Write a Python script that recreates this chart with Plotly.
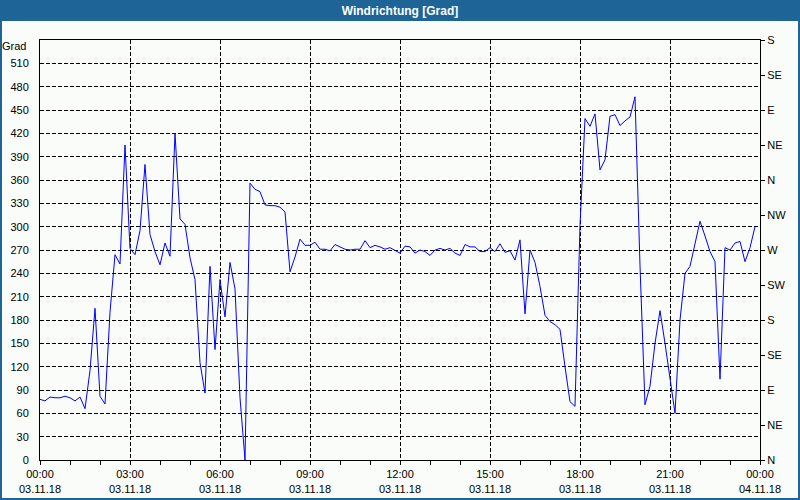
import plotly.graph_objects as go
import pandas as pd

# ---------------- data ----------------
start_time = "2018-11-03 00:00"
sample_step = "10min"

wind_dir = [
    78, 76, 81, 80, 80, 82, 80, 76, 81, 66,
    115, 195, 82, 72, 190, 264, 252, 405, 272, 264,
    295, 380, 290, 268, 251, 279, 262, 420, 310, 303,
    260, 232, 125, 86, 249, 142, 232, 184, 254, 220,
    80, 0, 356, 348, 345, 328, 327, 327, 325, 319,
    242, 261, 284, 276, 276, 280, 271, 271, 269, 277,
    274, 271, 270, 271, 271, 282, 273, 276, 274, 271,
    273, 270, 266, 275, 274, 266, 270, 268, 263, 270,
    272, 270, 272, 266, 263, 277, 274, 274, 268, 268,
    273, 268, 278, 267, 269, 257, 283, 188, 270, 254,
    223, 186, 178, 174, 168, 120, 75, 69, 301, 439,
    429, 445, 373, 386, 442, 444, 430, 436, 441, 467,
    250, 71, 95, 150, 192, 150, 103, 60, 180, 240,
    249, 279, 307, 288, 268, 255, 104, 273, 270, 279,
    281, 255, 273, 300,
]

times = pd.date_range(start_time, periods=len(wind_dir), freq=sample_step)

x_range = ["2018-11-03 00:00", "2018-11-04 00:00"]
x_tick_times = [
    "2018-11-03 00:00", "2018-11-03 03:00", "2018-11-03 06:00",
    "2018-11-03 09:00", "2018-11-03 12:00", "2018-11-03 15:00",
    "2018-11-03 18:00", "2018-11-03 21:00", "2018-11-04 00:00",
]
x_tick_labels = [
    "00:00<br>03.11.18", "03:00<br>03.11.18", "06:00<br>03.11.18",
    "09:00<br>03.11.18", "12:00<br>03.11.18", "15:00<br>03.11.18",
    "18:00<br>03.11.18", "21:00<br>03.11.18", "00:00<br>04.11.18",
]
y_ticks = [0, 30, 60, 90, 120, 150, 180, 210, 240, 270, 300, 330,
           360, 390, 420, 450, 480, 510]
compass_ticks = [0, 45, 90, 135, 180, 225, 270, 315, 360, 405, 450, 495, 540]
compass_labels = ["N", "NE", "E", "SE", "S", "SW", "W", "NW",
                  "N", "NE", "E", "SE", "S"]

# ---------------- style ----------------
FRAME = "#1e6496"
BG = "#f9fcf9"
FONT = "Liberation Sans, Arial, sans-serif"

fig = go.Figure()
fig.add_trace(go.Scatter(
    x=times, y=wind_dir, mode="lines",
    line=dict(color="#0000ff", width=1),
    hoverinfo="x+y", showlegend=False,
))
# invisible trace to anchor the compass axis
fig.add_trace(go.Scatter(
    x=[times[0]], y=[compass_ticks[0]], yaxis="y2", mode="markers",
    marker=dict(opacity=0), hoverinfo="skip", showlegend=False,
))

W, H = 800, 500
L, R, T, B = 40, 40, 40, 40
PW, PH = W - L - R, H - T - B


def px(xp):
    return (xp - L) / PW


def py(yp):
    return (H - B - yp) / PH


fig.update_layout(
    width=W, height=H,
    margin=dict(l=L, r=R, t=T, b=B, pad=0, autoexpand=False),
    paper_bgcolor=FRAME,
    plot_bgcolor=BG,
    font=dict(family=FONT, size=11, color="black"),
    showlegend=False,
    title=dict(
        text="<b>Windrichtung [Grad]</b>",
        font=dict(family=FONT, size=12, color="white"),
        x=0.5, xref="container", xanchor="center",
        y=1 - 11 / H, yref="container", yanchor="middle",
    ),
    shapes=[
        dict(type="rect", xref="paper", yref="paper",
             x0=px(2), x1=px(W - 2), y0=py(H - 2), y1=py(21),
             fillcolor=BG, line=dict(width=0), layer="below"),
    ],
    annotations=[
        dict(text="Grad", xref="paper", yref="paper",
             x=px(28), y=py(46), xanchor="right", yanchor="middle",
             showarrow=False, font=dict(size=11, color="black")),
    ],
    xaxis=dict(
        type="date", range=x_range, automargin=False,
        tickmode="array", tickvals=x_tick_times, ticktext=x_tick_labels,
        ticks="outside", ticklen=4, tickcolor="black", tickwidth=1,
        showline=True, linecolor="black", linewidth=1, mirror=True,
        showgrid=True, gridcolor="black", gridwidth=1, griddash="4px,2px",
        zeroline=False,
        tickfont=dict(size=11, color="black"),
        minor=dict(tickmode="linear", tick0="2018-11-03 00:00",
                   dtick=3600000, ticks="outside", ticklen=4,
                   tickcolor="black", showgrid=False),
    ),
    yaxis=dict(
        range=[0, 540], tickmode="array", tickvals=y_ticks, automargin=False,
        ticks="", showline=True, linecolor="black", linewidth=1, mirror=True,
        showgrid=True, gridcolor="black", gridwidth=1, griddash="4px,2px",
        zeroline=False, ticklabelstandoff=8,
        tickfont=dict(size=11, color="black"),
    ),
    yaxis2=dict(
        overlaying="y", side="right", range=[0, 540], automargin=False,
        tickmode="array", tickvals=compass_ticks, ticktext=compass_labels,
        ticks="outside", ticklen=4, tickcolor="black",
        showline=True, linecolor="black", linewidth=1,
        showgrid=False, zeroline=False,
        tickfont=dict(size=11, color="black"),
    ),
)

fig.write_html(
    "out.html",
    config={"displayModeBar": False},
    post_script="document.body.style.margin='0';document.body.style.overflow='hidden';",
)
